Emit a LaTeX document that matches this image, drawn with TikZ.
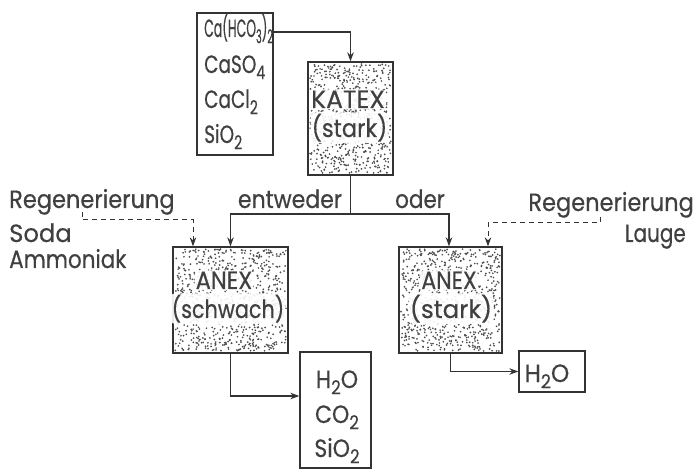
\documentclass[tikz,border=0pt]{standalone}
\usepackage{fontspec}
\setmainfont{Poppins}[FakeBold=0.5]
\usetikzlibrary{arrows.meta}
\newcommand\chsub[1]{\raisebox{-0.45ex}{\fontsize{19}{19}\selectfont #1}}
\newcommand\sx[2]{\scalebox{#1}[1]{#2}}
\newcommand\stipple[4]{%
  \pgfmathsetmacro\sw{#3-#1}\pgfmathsetmacro\sh{#4-#2}%
  \pgfmathtruncatemacro\sn{\sw*\sh/15}%
  \foreach \k in {1,...,\sn}{\fill[black!70] ({#1+2+rnd*(\sw-4)},{#2+2+rnd*(\sh-4)}) circle (0.95pt);}}
\begin{document}
\begin{tikzpicture}[x=1pt,y=-1pt,
  lbl/.style={font=\fontsize{25}{28}\selectfont, inner sep=0pt, text=black!75},
  inlbl/.style={lbl, fill=white, fill opacity=0.9, text opacity=1, inner sep=1.2pt, rounded corners=4pt},
  box/.style={draw=black!80, line width=1.3pt, inner sep=0pt},
  arr/.style={-{Stealth[length=9pt,width=6.5pt]}, line width=1.3pt, draw=black!80},
  dashline/.style={dashed, dash pattern=on 5pt off 4pt},
]
\pgfmathsetseed{7}
\useasboundingbox (0,0) rectangle (696,470);
% stippling
\stipple{308}{62}{393}{175}
\stipple{173}{247}{288}{353}
\stipple{399}{247}{502}{353}
% boxes
\node[box, minimum width=76pt, minimum height=142pt] (in) at (235,84) {};
\node[lbl, anchor=base west] (in1) at (204,37) {\sx{0.5}{Ca(HCO\chsub3)\chsub2}};
\node[lbl, anchor=base west] (in2) at (204,73) {\sx{0.74}{CaSO\chsub4}};
\node[lbl, anchor=base west] (in3) at (204,108) {\sx{0.74}{CaCl\chsub2}};
\node[lbl, anchor=base west] (in4) at (204,143) {\sx{0.74}{SiO\chsub2}};
\node[box, minimum width=85pt, minimum height=113pt] (kat) at (350.5,118.5) {};
\node[inlbl, anchor=base] (katA) at (348,108) {\sx{1.0}{KATEX}};
\node[inlbl, anchor=base] (katB) at (349.5,137) {\sx{0.9}{(stark)}};
\node[box, minimum width=115pt, minimum height=106pt] (as) at (230.5,300) {};
\node[inlbl, anchor=base] (asA) at (224,289) {\sx{0.9}{ANEX}};
\node[inlbl, anchor=base] (asB) at (228,318) {\sx{0.83}{(schwach)}};
\node[box, minimum width=103pt, minimum height=106pt] (ast) at (450.5,300) {};
\node[inlbl, anchor=base] (astA) at (449,289) {\sx{0.88}{ANEX}};
\node[inlbl, anchor=base] (astB) at (451,318) {\sx{0.98}{(stark)}};
\node[box, minimum width=71pt, minimum height=116pt] (o1) at (335.5,410) {};
\node[lbl, anchor=base] (o1a) at (337,388) {\sx{0.88}{H\chsub2O}};
\node[lbl, anchor=base] (o1b) at (337,423) {\sx{0.88}{CO\chsub2}};
\node[lbl, anchor=base] (o1c) at (337,457) {\sx{0.88}{SiO\chsub2}};
\node[box, minimum width=66pt, minimum height=41pt] (o2) at (552,371.5) {};
\node[lbl, anchor=base] (o2t) at (547,382) {\sx{0.93}{H\chsub2O}};
% labels
\node[lbl, anchor=base] (ent) at (290,208) {\sx{0.88}{entweder}};
\node[lbl, anchor=base] (oder) at (420,208) {\sx{0.86}{oder}};
\node[lbl, anchor=base west] (regl) at (9,208) {\sx{0.9}{Regenerierung}};
\node[lbl, anchor=base west] (soda) at (9,242) {\sx{0.97}{Soda}};
\node[lbl, anchor=base west] (amm) at (9,268) {\sx{0.86}{Ammoniak}};
\node[lbl, anchor=base east] (regr) at (694,211) {\sx{0.9}{Regenerierung}};
\node[lbl, anchor=base east] (lauge) at (686,242) {\sx{0.8}{Lauge}};
% connectors
\draw[arr] (in.east |- 0,32) -| (kat.north);
\coordinate (jm) at (kat.south |- 0,214);
\coordinate (jl) at (230.5,214);
\coordinate (jr) at (449,214);
\draw[line width=1.3pt, draw=black!80] (kat.south) -- (jm);
\draw[arr] (jm) -- (jl) -- (jl |- as.north);
\draw[arr] (jm) -- (jr) -- (jr |- ast.north);
\coordinate (rl) at (82,212);
\coordinate (dl) at (193,220);
\draw[arr, dashline, line width=1pt] (rl) |- (dl) -- (dl |- as.north);
\coordinate (rr) at (600,217);
\coordinate (dr) at (488,223);
\draw[arr, dashline, line width=1pt] (rr) |- (dr) -- (dr |- ast.north);
\draw[arr] (as.south) |- (o1.west |- 0,396);
\draw[arr] (ast.south) |- (o2.west);
\end{tikzpicture}
\end{document}
